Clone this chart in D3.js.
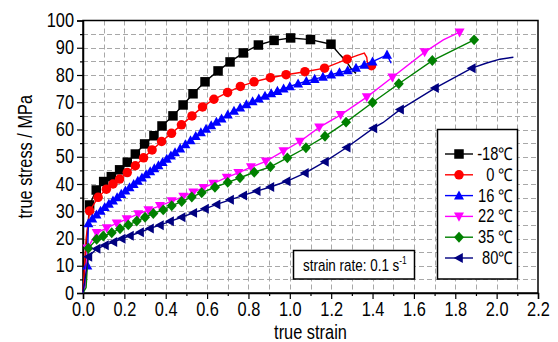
<!DOCTYPE html>
<html>
<head>
<meta charset="utf-8">
<script src="https://cdn.jsdelivr.net/npm/d3@7"></script>
<style>
  body { margin: 0; background: #fff; }
  svg text { font-family: "Liberation Sans", Arial, sans-serif; }
</style>
</head>
<body>
<div id="container"></div>
<script>
// [true strain, true stress (MPa), has symbol]
const curveM18 = [[0,0,0],[0.012,14,0],[0.032,32.3,1],[0.064,37.8,1],[0.10,40.9,1],[0.137,42.7,1],[0.177,45.2,1],[0.214,48.0,1],[0.253,51.0,1],[0.298,54.7,1],[0.343,57.7,1],[0.382,61.3,1],[0.435,65.0,1],[0.484,69.0,1],[0.532,73.1,1],[0.59,77.5,1],[0.653,81.5,1],[0.711,84.8,1],[0.775,88.1,1],[0.848,91.0,1],[0.924,92.7,1],[1.004,93.6,1],[1.10,93.0,1],[1.199,91.3,1],[1.243,87.4,0],[1.275,84.8,0],[1.30,82.0,0],[1.32,80.6,0]];
const curve0 = [[0,0,0],[0.015,20,0],[0.032,30.1,1],[0.073,35.1,1],[0.113,38.1,1],[0.145,40.0,1],[0.177,41.8,1],[0.214,44.2,1],[0.253,46.7,1],[0.293,49.6,1],[0.334,52.5,1],[0.380,55.6,1],[0.428,58.6,1],[0.476,61.7,1],[0.527,65.0,1],[0.578,68.3,1],[0.633,71.1,1],[0.699,73.6,1],[0.761,75.8,1],[0.827,77.5,1],[0.906,79.0,1],[0.982,80.1,1],[1.073,81.2,1],[1.168,82.5,1],[1.277,85.8,1],[1.33,87.3,0],[1.36,88.0,0],[1.372,86.5,0],[1.375,84.5,0],[1.395,83.4,1]];
const curve16 = [[0,0,0],[0.021,10,1],[0.026,25.5,1],[0.045,27.3,1],[0.065,28.7,1],[0.085,30.1,1],[0.105,31.5,1],[0.125,32.7,1],[0.145,33.9,1],[0.165,35.1,1],[0.185,36.3,1],[0.205,37.5,1],[0.225,38.7,1],[0.245,39.9,1],[0.265,41.1,1],[0.285,42.3,1],[0.305,43.5,1],[0.325,44.6,1],[0.345,45.7,1],[0.365,46.8,1],[0.385,48.0,1],[0.405,49.2,1],[0.425,50.4,1],[0.445,51.6,1],[0.47,53.0,1],[0.495,54.5,1],[0.52,56.0,1],[0.545,57.5,1],[0.57,58.9,1],[0.595,60.2,1],[0.62,61.5,1],[0.645,62.8,1],[0.67,64.0,1],[0.70,65.4,1],[0.73,66.8,1],[0.76,68.0,1],[0.79,69.2,1],[0.82,70.3,1],[0.85,71.3,1],[0.88,72.3,1],[0.91,73.2,1],[0.94,74.1,1],[0.97,75.0,1],[1.0,75.8,1],[1.04,76.8,1],[1.08,77.7,1],[1.12,78.5,1],[1.16,79.3,1],[1.20,80.1,1],[1.24,80.9,1],[1.28,81.7,1],[1.32,82.6,1],[1.36,83.7,1],[1.40,84.9,1],[1.47,87.4,1],[1.49,84.3,0]];
const curve22 = [[0,0,0],[0.012,3,0],[0.021,16.4,1],[0.066,22.1,1],[0.115,23.8,1],[0.163,25.6,1],[0.211,27.1,1],[0.267,29.0,1],[0.316,30.4,1],[0.372,32.0,1],[0.429,33.7,1],[0.485,35.4,1],[0.533,37.0,1],[0.582,38.6,1],[0.63,40.2,1],[0.695,42.4,1],[0.751,44.1,1],[0.812,46.2,1],[0.884,48.3,1],[0.969,52.1,1],[1.049,55.6,1],[1.142,60.8,1],[1.246,65.4,1],[1.372,71.9,1],[1.496,79.2,1],[1.652,88.4,1],[1.742,92.9,0],[1.821,95.7,1]];
const curve35 = [[0,0,0],[0.015,2,0],[0.026,16.4,1],[0.066,19.7,1],[0.098,20.9,1],[0.139,22.1,1],[0.179,23.6,1],[0.219,25.0,1],[0.26,26.4,1],[0.30,27.8,1],[0.34,29.2,1],[0.388,30.5,1],[0.429,32.0,1],[0.477,33.6,1],[0.526,35.2,1],[0.574,36.8,1],[0.638,38.8,1],[0.70,40.6,1],[0.759,42.3,1],[0.828,44.3,1],[0.906,46.3,1],[0.988,49.6,1],[1.078,53.3,1],[1.17,57.5,1],[1.272,62.7,1],[1.40,69.9,1],[1.527,76.8,1],[1.689,85.3,1],[1.891,92.9,1]];
const curve80 = [[0,0,0],[0.026,13.3,1],[0.066,16.2,1],[0.106,17.5,1],[0.147,18.7,1],[0.187,19.9,1],[0.227,21.0,1],[0.276,22.3,1],[0.324,23.7,1],[0.372,24.9,1],[0.421,26.3,1],[0.477,27.8,1],[0.533,29.4,1],[0.59,30.9,1],[0.646,32.5,1],[0.711,34.2,1],[0.775,35.8,1],[0.84,37.4,1],[0.906,38.9,1],[0.985,41.0,1],[1.073,44.0,1],[1.17,48.2,1],[1.275,53.4,1],[1.404,60.5,1],[1.45,62.5,0],[1.533,67.3,1],[1.702,75.2,1],[1.88,82.5,1],[1.952,84.4,0],[2.016,85.8,0],[2.081,86.5,0]];

const seriesNames = ["-18\u2103", "0 \u2103", "16 \u2103", "22 \u2103", "35 \u2103", "80\u2103"];
const seriesCurves = [curveM18, curve0, curve16, curve22, curve35, curve80];
const seriesColors = ["#000000", "#ff0000", "#0000ff", "#ff00ff", "#008000", "#000080"];
const seriesSymbols = ["square", "circle", "up", "down", "diamond", "left"];

const xTicks = d3.range(0, 2.21, 0.2);
const yTicks = d3.range(0, 101, 10);

const W = 558, H = 342;
const SQUEEZE = 0.84; // reference text is horizontally condensed
const x = d3.scaleLinear().domain([0, 2.2]).range([83, 538]);
const y = d3.scaleLinear().domain([0, 100]).range([293, 20.5]);

const svg = d3.select("#container").append("svg")
    .attr("width", W).attr("height", H);

// move x/y into a transform so text can be squeezed in place
const narrow = sel => sel.each(function () {
    const t = d3.select(this);
    const tx = +t.attr("x") || 0, ty = +t.attr("y") || 0;
    const pre = t.attr("transform") || "";
    t.attr("x", null).attr("y", null)
        .attr("transform", `${pre} translate(${tx},${ty}) scale(${SQUEEZE},1)`);
});

// grid
const grid = svg.append("g")
    .attr("stroke", "#a8a8a8")
    .attr("stroke-width", 1)
    .attr("stroke-dasharray", "5,3");
grid.selectAll()
    .data(d3.range(1, 22).map(i => i / 10))
    .join("line")
    .attr("x1", d => Math.round(x(d)) + 0.5).attr("x2", d => Math.round(x(d)) + 0.5)
    .attr("y1", y(100)).attr("y2", y(0));
grid.selectAll()
    .data(d3.range(5, 100, 5))
    .join("line")
    .attr("y1", d => Math.round(y(d)) + 0.5).attr("y2", d => Math.round(y(d)) + 0.5)
    .attr("x1", x(0)).attr("x2", x(2.2));

// axes
const xAxis = svg.append("g")
    .attr("transform", `translate(0,${y(0)})`)
    .call(d3.axisBottom(x).tickValues(xTicks).tickFormat(d3.format(".1f")).tickSize(6).tickPadding(3));
svg.append("g")
    .attr("transform", `translate(0,${y(0)})`)
    .call(d3.axisBottom(x).tickValues(d3.range(0.1, 2.2, 0.2)).tickFormat("").tickSize(3))
    .call(g => g.select(".domain").remove());
const yAxis = svg.append("g")
    .attr("transform", `translate(${x(0)},0)`)
    .call(d3.axisLeft(y).tickValues(yTicks).tickSize(6).tickPadding(3));
svg.append("g")
    .attr("transform", `translate(${x(0)},0)`)
    .call(d3.axisLeft(y).tickValues(d3.range(5, 100, 10)).tickFormat("").tickSize(3))
    .call(g => g.select(".domain").remove());

svg.selectAll(".tick line").attr("stroke-width", 1.2);
svg.selectAll(".domain").attr("stroke-width", 1.5);
xAxis.selectAll("text").attr("font-size", 19.5).attr("fill", "#000").call(narrow);
yAxis.selectAll("text").attr("font-size", 19.5).attr("fill", "#000").call(narrow);

// frame
svg.append("rect")
    .attr("x", x(0)).attr("y", y(100))
    .attr("width", x(2.2) - x(0)).attr("height", y(0) - y(100))
    .attr("fill", "none").attr("stroke", "#000").attr("stroke-width", 1.5);

// axis titles
svg.append("text")
    .attr("x", (x(0) + x(2.2)) / 2).attr("y", 339)
    .attr("text-anchor", "middle").attr("font-size", 19.5)
    .text("true strain")
    .call(narrow);
svg.append("text")
    .attr("transform", `translate(32,${(y(0) + y(100)) / 2}) rotate(-90)`)
    .attr("text-anchor", "middle").attr("font-size", 19.5)
    .text("true stress / MPa")
    .call(narrow);

// symbol paths
const symbolPath = (type, s) => {
    const h = s / 2;
    switch (type) {
        case "square": return `M${-h},${-h}H${h}V${h}H${-h}Z`;
        case "circle": return `M${h},0A${h},${h} 0 1,1 ${-h},0A${h},${h} 0 1,1 ${h},0Z`;
        case "up": return `M0,${-h * 1.1}L${h * 1.05},${h * 0.8}L${-h * 1.05},${h * 0.8}Z`;
        case "down": return `M0,${h * 1.1}L${h * 1.05},${-h * 0.8}L${-h * 1.05},${-h * 0.8}Z`;
        case "left": return `M${-h * 1.1},0L${h * 0.8},${h * 1.05}L${h * 0.8},${-h * 1.05}Z`;
        case "diamond": return `M0,${-h * 1.15}L${h * 1.05},0L0,${h * 1.15}L${-h * 1.05},0Z`;
    }
};

const line = d3.line().x(d => x(d[0])).y(d => y(d[1]));

seriesCurves.forEach((curve, i) => {
    const g = svg.append("g");
    g.append("path")
        .attr("d", line(curve))
        .attr("fill", "none")
        .attr("stroke", seriesColors[i])
        .attr("stroke-width", 1.4);
    g.selectAll()
        .data(curve.filter(d => d[2]))
        .join("path")
        .attr("transform", d => `translate(${x(d[0])},${y(d[1])})`)
        .attr("d", symbolPath(seriesSymbols[i], 9.5))
        .attr("fill", seriesColors[i]);
});

// legend
const legend = svg.append("g");
legend.append("rect")
    .attr("x", 437.5).attr("y", 129.5).attr("width", 80).attr("height", 149.5)
    .attr("fill", "#fff").attr("stroke", "#000").attr("stroke-width", 1.5);
seriesNames.forEach((name, i) => {
    const ly = 154 + i * 20.8;
    legend.append("line")
        .attr("x1", 445).attr("x2", 473).attr("y1", ly).attr("y2", ly)
        .attr("stroke", seriesColors[i]).attr("stroke-width", 1.4);
    legend.append("path")
        .attr("transform", `translate(459,${ly})`)
        .attr("d", symbolPath(seriesSymbols[i], 9.5))
        .attr("fill", seriesColors[i]);
    legend.append("text")
        .attr("x", 513).attr("y", ly + 6)
        .attr("text-anchor", "end").attr("font-size", 17.5)
        .text(name)
        .call(narrow);
});

// strain rate note
svg.append("rect")
    .attr("x", 293.5).attr("y", 250.5).attr("width", 121).attr("height", 28.5)
    .attr("fill", "#fff").attr("stroke", "#000").attr("stroke-width", 1.5);
const note = svg.append("text")
    .attr("x", 303).attr("y", 271).attr("font-size", 16);
note.append("tspan").text("strain rate: 0.1 s");
note.append("tspan").attr("dy", -7).attr("font-size", 10).text("-1");
note.call(narrow);
</script>
</body>
</html>
